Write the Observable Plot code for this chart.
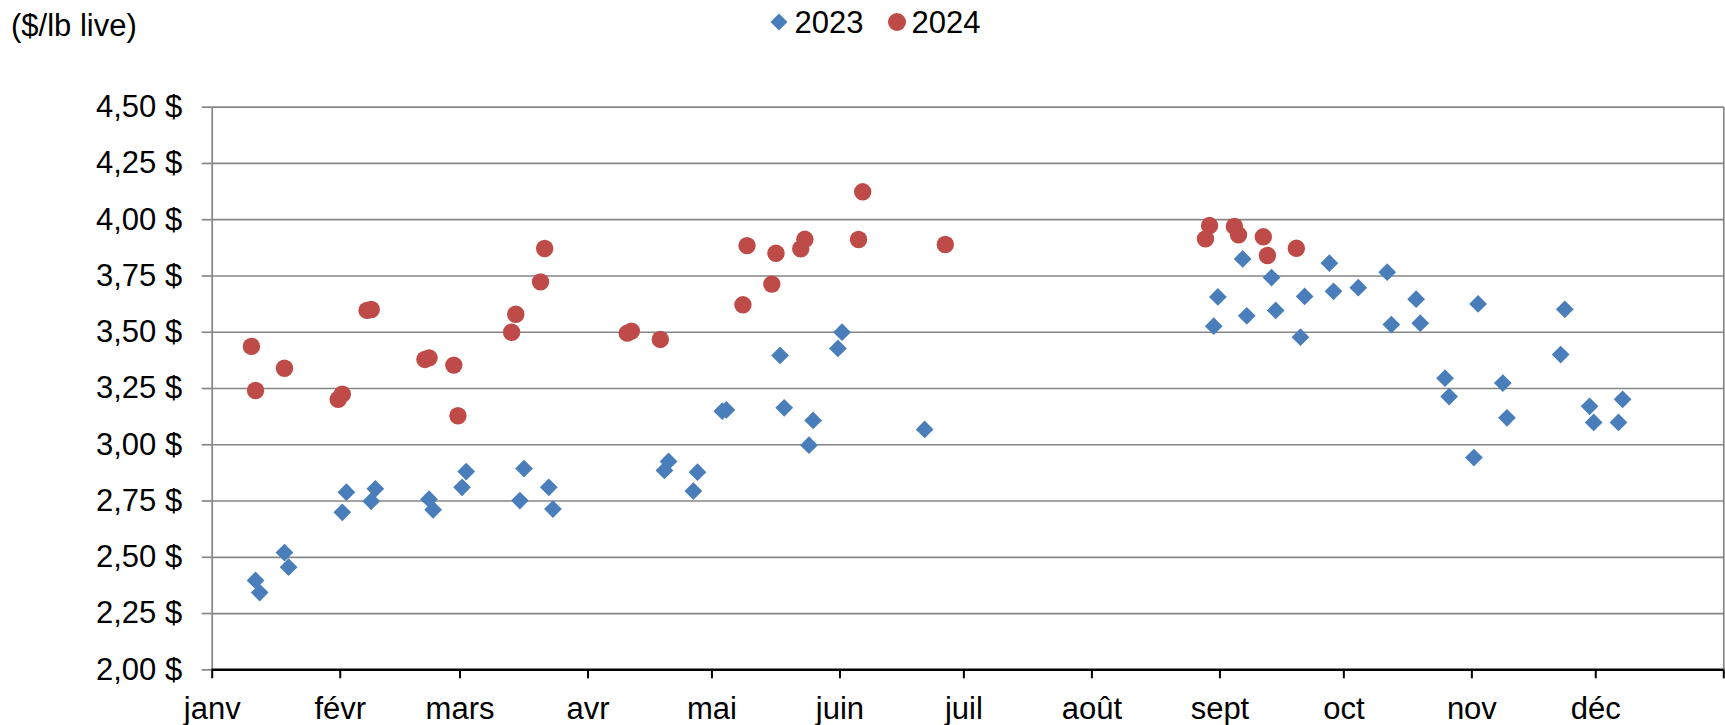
<!DOCTYPE html>
<html>
<head>
<meta charset="utf-8">
<script src="https://cdn.jsdelivr.net/npm/d3@7"></script>
<script src="https://cdn.jsdelivr.net/npm/@observablehq/plot@0.6"></script>
<style>
  html, body { margin: 0; padding: 0; background: #fff; }
  body { font-family: "Liberation Sans", Arial, sans-serif; color: #000; width: 1725px; }
  #header { position: relative; height: 60px; width: 1725px; font-size: 31px; line-height: 31px; }
  #header .t { position: absolute; white-space: nowrap; }
  .diam { position: absolute; width: 12px; height: 12px; background: #4A7EBB; transform: rotate(45deg); }
  .circ { position: absolute; width: 18px; height: 18px; border-radius: 50%; background: #BE4B48; }
</style>
</head>
<body>
<div id="header">
  <div class="t" id="unit" style="left:11px; top:10px;"></div>
  <div class="diam" style="left:773px; top:16px;"></div>
  <div class="t" id="lg0" style="left:794.5px; top:7px;"></div>
  <div class="circ" style="left:888px; top:13px;"></div>
  <div class="t" id="lg1" style="left:911.5px; top:7px;"></div>
</div>
<div id="chart"></div>
<script>
// ---- data (dates placed on a common 2024 calendar axis) ----
const seriesNames = ["2023", "2024"];
const unitLabel = "($/lb live)";
const monthLabels = ["janv", "févr", "mars", "avr", "mai", "juin", "juil", "août", "sept", "oct", "nov", "déc"];
const yTicks = [2.00, 2.25, 2.50, 2.75, 3.00, 3.25, 3.50, 3.75, 4.00, 4.25, 4.50];

const dates2023 = [
  "2024-01-11", "2024-01-12", "2024-01-18", "2024-01-19",
  "2024-02-01", "2024-02-02", "2024-02-08", "2024-02-09",
  "2024-02-22", "2024-02-23", "2024-03-01", "2024-03-02",
  "2024-03-15", "2024-03-16", "2024-03-22", "2024-03-23",
  "2024-04-19", "2024-04-20", "2024-04-26", "2024-04-27",
  "2024-05-03", "2024-05-04", "2024-05-17", "2024-05-18",
  "2024-05-24", "2024-05-25", "2024-05-31", "2024-06-01",
  "2024-06-21",
  "2024-08-30", "2024-08-31", "2024-09-06", "2024-09-07",
  "2024-09-13", "2024-09-14", "2024-09-20", "2024-09-21",
  "2024-09-27", "2024-09-28", "2024-10-04", "2024-10-11",
  "2024-10-12", "2024-10-18", "2024-10-19", "2024-10-25",
  "2024-10-26", "2024-11-01", "2024-11-02", "2024-11-08",
  "2024-11-09", "2024-11-22", "2024-11-23", "2024-11-29",
  "2024-11-30", "2024-12-06", "2024-12-07"
];
const values2023 = [
  2.397, 2.343, 2.521, 2.456,
  2.700, 2.789, 2.749, 2.804,
  2.758, 2.711, 2.811, 2.881,
  2.752, 2.894, 2.811, 2.714,
  2.886, 2.926, 2.794, 2.878,
  3.149, 3.155, 3.397, 3.164,
  2.998, 3.108, 3.428, 3.500,
  3.068,
  3.527, 3.657, 3.826, 3.573,
  3.743, 3.597, 3.478, 3.659,
  3.807, 3.682, 3.698, 3.767,
  3.534, 3.647, 3.540, 3.296,
  3.214, 2.943, 3.626, 3.274,
  3.120, 3.401, 3.602, 3.171,
  3.099, 3.099, 3.202
];

const dates2024 = [
  "2024-01-10", "2024-01-11", "2024-01-18",
  "2024-01-31", "2024-02-01", "2024-02-07", "2024-02-08",
  "2024-02-21", "2024-02-22", "2024-02-28", "2024-02-29",
  "2024-03-13", "2024-03-14", "2024-03-20", "2024-03-21",
  "2024-04-10", "2024-04-11", "2024-04-18",
  "2024-05-08", "2024-05-09", "2024-05-15", "2024-05-16",
  "2024-05-22", "2024-05-23", "2024-06-05", "2024-06-06",
  "2024-06-26",
  "2024-08-28", "2024-08-29", "2024-09-04", "2024-09-05",
  "2024-09-11", "2024-09-12", "2024-09-19"
];
const values2024 = [
  3.437, 3.241, 3.340,
  3.202, 3.225, 3.597, 3.601,
  3.379, 3.386, 3.354, 3.129,
  3.500, 3.580, 3.724, 3.872,
  3.496, 3.505, 3.468,
  3.622, 3.885, 3.714, 3.851,
  3.871, 3.913, 3.912, 4.124,
  3.890,
  3.915, 3.974, 3.970, 3.933,
  3.924, 3.841, 3.873
];

// ---- build tables ----
const toDate = s => new Date(s + "T12:00:00Z");
const rows2023 = dates2023.map((d, i) => ({date: toDate(d), value: values2023[i]}));
const rows2024 = dates2024.map((d, i) => ({date: toDate(d), value: values2024[i]}));
const xStart = new Date(Date.UTC(2024, 0, 1));
const xEnd = new Date(Date.UTC(2025, 0, 1));
const monthTicks = d3.utcMonth.range(xStart, d3.utcDay.offset(xEnd, 1));

const blue = "#4A7EBB";
const red = "#BE4B48";
const grid = "#868686";

document.getElementById("unit").textContent = unitLabel;
document.getElementById("lg0").textContent = seriesNames[0];
document.getElementById("lg1").textContent = seriesNames[1];

const chart = Plot.plot({
  width: 1725,
  height: 665,
  marginLeft: 211.7,
  marginRight: 1.7,
  marginTop: 46.7,
  marginBottom: 55.7,
  style: {fontFamily: "'Liberation Sans', Arial, sans-serif", fontSize: "31px", color: "#000", background: "#fff"},
  x: {type: "utc", domain: [xStart, xEnd]},
  y: {domain: [2, 4.5]},
  marks: [
    Plot.ruleY(yTicks, {stroke: grid, strokeWidth: 1.7}),
    Plot.axisY(yTicks, {
      tickSize: 10, tickPadding: 20, stroke: grid, strokeWidth: 1.7, label: null,
      tickFormat: v => v.toFixed(2).replace(".", ",") + " $"
    }),
    Plot.ruleX([xStart], {stroke: grid, strokeWidth: 1.7}),
    Plot.ruleX([xEnd], {stroke: grid, strokeWidth: 1.7}),
    Plot.ruleY([2], {stroke: "#000", strokeWidth: 2.4}),
    Plot.axisX(monthTicks, {
      tickSize: 9, tickPadding: 18, stroke: "#000", strokeWidth: 2, label: null,
      tickFormat: d => d.getUTCFullYear() > 2024 ? "" : monthLabels[d.getUTCMonth()]
    }),
    Plot.dot(rows2023, {x: "date", y: "value", symbol: "diamond2", r: 8, fill: blue, stroke: "none"}),
    Plot.dot(rows2024, {x: "date", y: "value", symbol: "circle", r: 8.7, fill: red, stroke: "none"})
  ]
});
document.getElementById("chart").appendChild(chart);
</script>
</body>
</html>
